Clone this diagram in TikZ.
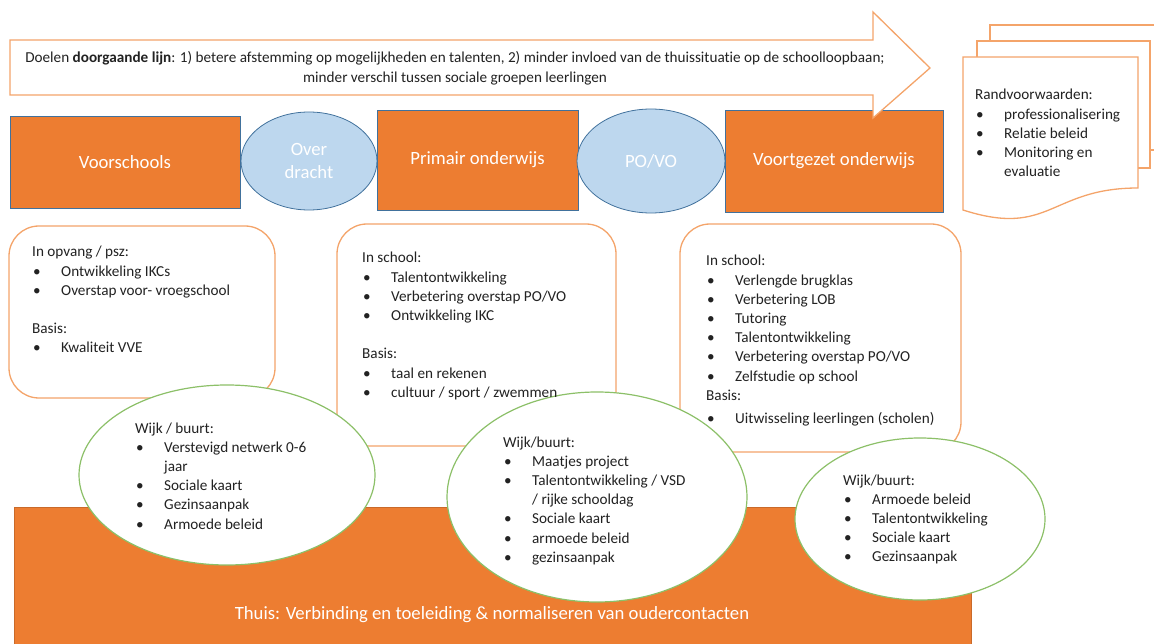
\documentclass[tikz,border=0pt]{standalone}
\usepackage{fontspec}
\setmainfont{Carlito}[Ligatures=NoCommon]
\usetikzlibrary{shapes.geometric, positioning}

\definecolor{stageorange}{HTML}{ED7D31}
\definecolor{stageblue}{HTML}{41719C}
\definecolor{transferblue}{HTML}{BDD7EE}
\definecolor{lineorange}{HTML}{F4A46A}
\definecolor{wijkgreen}{HTML}{8CC068}
\definecolor{textgrey}{HTML}{222222}

\tikzstyle{stage} = [rectangle, draw=stageblue, line width=0.8pt, fill=stageorange, text=white, font=\fontsize{18.7}{22}\selectfont, inner sep=0pt]
\tikzstyle{transfer} = [ellipse, draw=stageblue, line width=0.8pt, fill=transferblue, text=white, align=center, inner sep=0pt, font=\fontsize{18.7}{22.5}\selectfont]
\tikzstyle{infobox} = [rectangle, rounded corners=30pt, draw=lineorange, line width=1.3pt, fill=white, inner sep=0pt]
\tikzstyle{wijk} = [ellipse, draw=wijkgreen, line width=1.2pt, fill=white, inner sep=0pt]
\tikzstyle{page} = [draw=lineorange, line width=1.3pt, fill=white]
\tikzstyle{list} = [anchor=base west, inner sep=0pt, text=textgrey, font=\fontsize{15.2}{19.2}\selectfont]

\newcommand{\bul}{\makebox[29pt][l]{\hspace{1pt}\textbullet}}

\begin{document}
\begin{tikzpicture}[x=1pt, y=-1pt]
\useasboundingbox (0,0) rectangle (1154,644);
\clip (0,0) rectangle (1154,644);

% stages
\node (voorschools) [stage, minimum width=230pt, minimum height=92pt] at (125,162) {Voorschools};
\node (overdracht) [transfer, minimum width=136pt, minimum height=98pt] at (309,161) {Over\\dracht};
\node (primair) [stage, minimum width=201pt, minimum height=100pt] at (477.5,160) {Primair onderwijs};
\node (povo) [transfer, minimum width=148pt, minimum height=104pt] at (651,161) {PO/VO};
\node (voortgezet) [stage, minimum width=218pt, minimum height=102pt] at (834,161) {Voortgezet onderwijs};

% doelen arrow
\draw [page] (10,40) -- (873,40) -- (873,12) -- (930,68) -- (873,118) -- (873,95) -- (10,95) -- cycle;
\node (doelen) [list, anchor=base] at (455,63) {\begin{tabular}[t]{@{}c@{}}
Doelen \textbf{doorgaande lijn}: 1) betere afstemming op mogelijkheden en talenten, 2) minder invloed van de thuissituatie op de schoolloopbaan;\\
minder verschil tussen sociale groepen leerlingen
\end{tabular}};

% randvoorwaarden pages
\draw [page] (990,41) -- (990,25) -- (1170,25) -- (1170,150) -- (1150,150);
\draw [page] (977,57) -- (977,41) -- (1150,41) -- (1150,168) -- (1138,168);
\draw [page] (963,57) -- (1138,57) -- (1138,188) .. controls (1050,188) and (1050,238) .. (963,210) -- cycle;
\node (rand) [list] at (975,100) {\begin{tabular}[t]{@{}l@{}}
Randvoorwaarden:\\
\bul professionalisering\\
\bul Relatie beleid\\
\bul Monitoring en\\
\hspace{29pt}evaluatie
\end{tabular}};

% school boxes
\node (opvang) [infobox, minimum width=266pt, minimum height=172pt] at (142,312) {};
\node (school) [infobox, minimum width=279pt, minimum height=222pt] at (476.5,335) {};
\node (vo) [infobox, minimum width=281pt, minimum height=228pt] at (820.5,338) {};

% thuis
\node (thuis) [rectangle, fill=stageorange, draw=stageorange!85!black, line width=0.8pt, minimum width=957pt, minimum height=143pt, inner sep=0pt] at (492.5,578.5) {};

% wijk ellipses
\node (wijkvoor) [wijk, minimum width=296pt, minimum height=180pt] at (227,475) {};
\node (wijkpo) [wijk, minimum width=300pt, minimum height=210pt] at (597,497) {};
\node (wijkvo) [wijk, minimum width=250pt, minimum height=162pt] at (920,519) {};

% teksten
\node (opvangtxt) [list] at (32,257) {\begin{tabular}[t]{@{}l@{}}
In opvang / psz:\\
\bul Ontwikkeling IKCs\\
\bul Overstap voor- vroegschool\\
\\
Basis:\\
\bul Kwaliteit VVE
\end{tabular}};
\node (schooltxt) [list] at (362,263) {\begin{tabular}[t]{@{}l@{}}
In school:\\
\bul Talentontwikkeling\\
\bul Verbetering overstap PO/VO\\
\bul Ontwikkeling IKC\\
\\
Basis:\\
\bul taal en rekenen\\
\bul cultuur / sport / zwemmen
\end{tabular}};
\node (votxt) [list] at (706,266) {\begin{tabular}[t]{@{}l@{}}
In school:\\
\bul Verlengde brugklas\\
\bul Verbetering LOB\\
\bul Tutoring\\
\bul Talentontwikkeling\\
\bul Verbetering overstap PO/VO\\
\bul Zelfstudie op school\\
Basis:\\[4pt]
\bul Uitwisseling leerlingen (scholen)
\end{tabular}};
\node (wijkvoortxt) [list] at (135,433) {\begin{tabular}[t]{@{}l@{}}
Wijk / buurt:\\
\bul Verstevigd netwerk 0-6\\
\hspace{29pt}jaar\\
\bul Sociale kaart\\
\bul Gezinsaanpak\\
\bul Armoede beleid
\end{tabular}};
\node (wijkpotxt) [list] at (503,447) {\begin{tabular}[t]{@{}l@{}}
Wijk/buurt:\\
\bul Maatjes project\\
\bul Talentontwikkeling / VSD\\
\hspace{29pt}/ rijke schooldag\\
\bul Sociale kaart\\
\bul armoede beleid\\
\bul gezinsaanpak
\end{tabular}};
\node (wijkvotxt) [list] at (843,485) {\begin{tabular}[t]{@{}l@{}}
Wijk/buurt:\\
\bul Armoede beleid\\
\bul Talentontwikkeling\\
\bul Sociale kaart\\
\bul Gezinsaanpak
\end{tabular}};
\node (thuistxt) [anchor=base, inner sep=0pt, text=white, font=\fontsize{18.7}{22}\selectfont] at (492,619) {Thuis: Verbinding en toeleiding \& normaliseren van oudercontacten};
\end{tikzpicture}
\end{document}
